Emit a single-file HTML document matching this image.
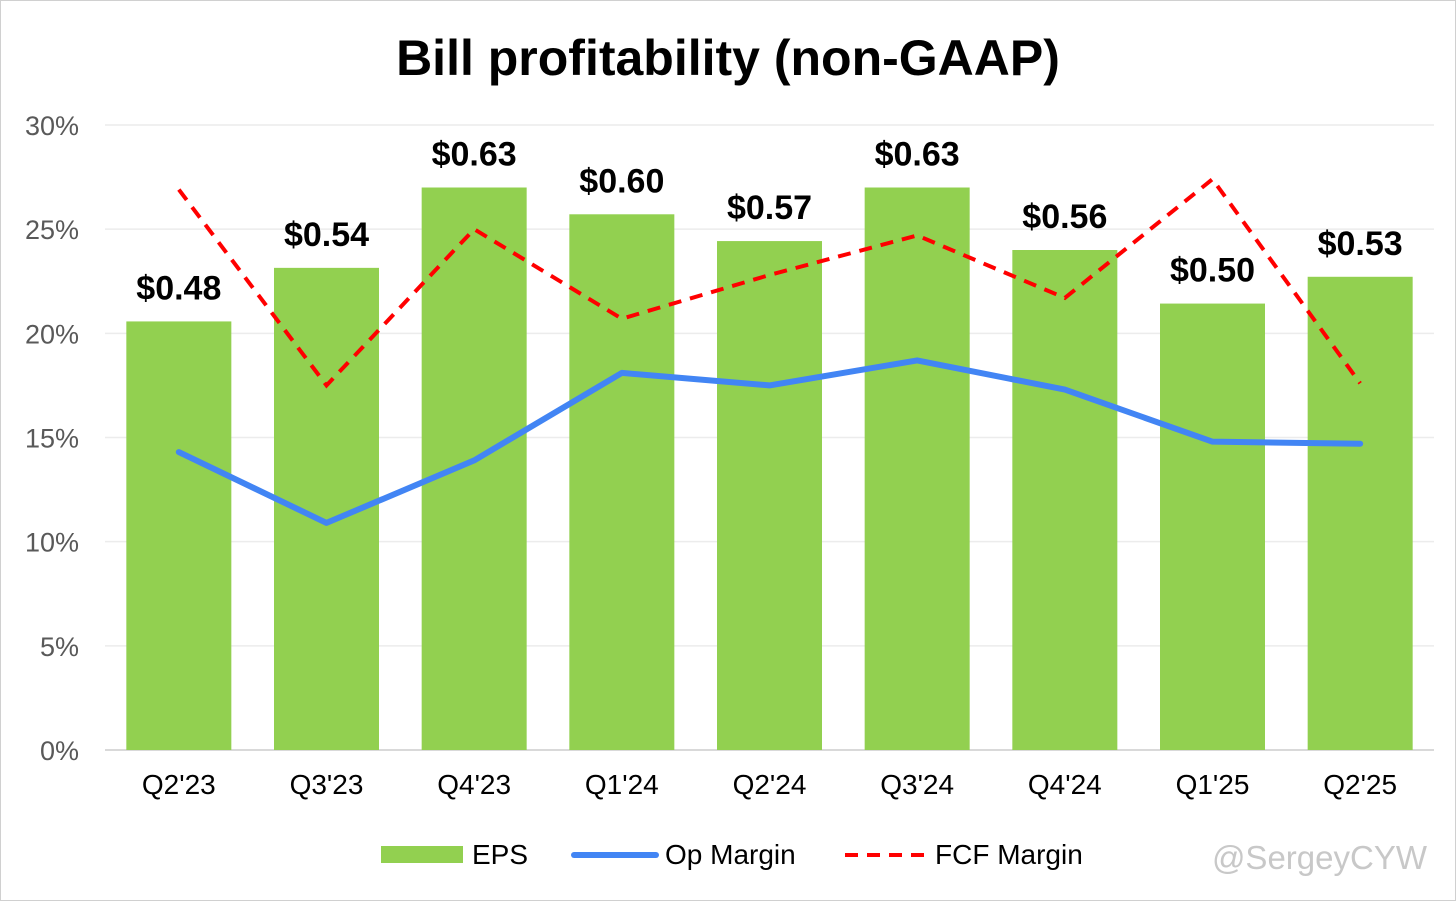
<!DOCTYPE html>
<html><head><meta charset="utf-8"><style>
html,body{margin:0;padding:0;background:#fff;}
svg{display:block;font-family:"Liberation Sans",Arial,sans-serif;}
</style></head><body>
<svg id="chart" width="1456" height="901" viewBox="0 0 1456 901">
<rect x="0.5" y="0.5" width="1455" height="900" fill="#fff" stroke="#d0d0d0"/>
<text x="728" y="75" text-anchor="middle" font-size="50" font-weight="bold" fill="#000">Bill profitability (non-GAAP)</text>
<g id="grid"></g><g id="bars"></g><g id="lines"></g><g id="labels"></g>
<g>
<rect x="381" y="846" width="82" height="17" fill="#92d050"/>
<text x="472" y="864" font-size="28" fill="#000">EPS</text>
<line x1="574" y1="855" x2="656" y2="855" stroke="#4285f4" stroke-width="6" stroke-linecap="round"/>
<text x="665" y="864" font-size="28" fill="#000">Op Margin</text>
<line x1="845" y1="855" x2="927" y2="855" stroke="#ff0000" stroke-width="4" stroke-dasharray="13,9"/>
<text x="935" y="864" font-size="28" fill="#000">FCF Margin</text>
</g>
<text x="1427" y="869" text-anchor="end" font-size="33" fill="#c8c8c8">@SergeyCYW</text>
</svg>
<script>
const categories=["Q2'23","Q3'23","Q4'23","Q1'24","Q2'24","Q3'24","Q4'24","Q1'25","Q2'25"];
const eps=[0.48,0.54,0.63,0.60,0.57,0.63,0.56,0.50,0.53];
const opMargin=[14.3,10.9,13.9,18.1,17.5,18.7,17.3,14.8,14.7];
const fcfMargin=[26.9,17.5,25.0,20.7,22.8,24.7,21.7,27.4,17.6];
const yTicks=[0,5,10,15,20,25,30];
const NS="http://www.w3.org/2000/svg";
const y0=750,yTop=125,yMax=30,epsMax=0.70;
const xL=105,xR=1434,step=(xR-xL)/categories.length,barW=105;
const yP=v=>y0-(v/yMax)*(y0-yTop);
const yE=v=>y0-(v/epsMax)*(y0-yTop);
const xC=i=>xL+step*(i+0.5);
function mk(t,a,p){const e=document.createElementNS(NS,t);for(const k in a)e.setAttribute(k,a[k]);p.appendChild(e);return e;}
const grid=document.getElementById('grid');
yTicks.forEach(t=>{
 const l=mk('line',{x1:xL,x2:xR,y1:yP(t),y2:yP(t),stroke:t===0?'#d9d9d9':'#ececec','stroke-width':t===0?2:1.5},grid);
 
 
 const tx=mk('text',{x:79,y:yP(t)+10,'text-anchor':'end','font-size':27,fill:'#595959'},grid);
 tx.textContent=t+'%';
 
 
});
const bars=document.getElementById('bars'),labels=document.getElementById('labels');
categories.forEach((c,i)=>{
 const r=mk('rect',{x:xC(i)-barW/2,y:yE(eps[i]),width:barW,height:y0-yE(eps[i]),fill:'#92d050'},bars);
 
 
 const v=mk('text',{x:xC(i),y:yE(eps[i])-22,'text-anchor':'middle','font-size':34,'font-weight':'bold',fill:'#000'},labels);
 v.textContent='$'+eps[i].toFixed(2);
 
 
 const xt=mk('text',{x:xC(i),y:794,'text-anchor':'middle','font-size':28,fill:'#000'},labels);
 xt.textContent=c;
 
 
});
const lines=document.getElementById('lines');
const op=mk('polyline',{points:opMargin.map((v,i)=>xC(i)+','+yP(v)).join(' '),fill:'none',stroke:'#4285f4','stroke-width':6,'stroke-linejoin':'round','stroke-linecap':'round'},lines);


const fcf=mk('polyline',{points:fcfMargin.map((v,i)=>xC(i)+','+yP(v)).join(' '),fill:'none',stroke:'#ff0000','stroke-width':4,'stroke-dasharray':'13,9'},lines);


</script>
</body></html>
